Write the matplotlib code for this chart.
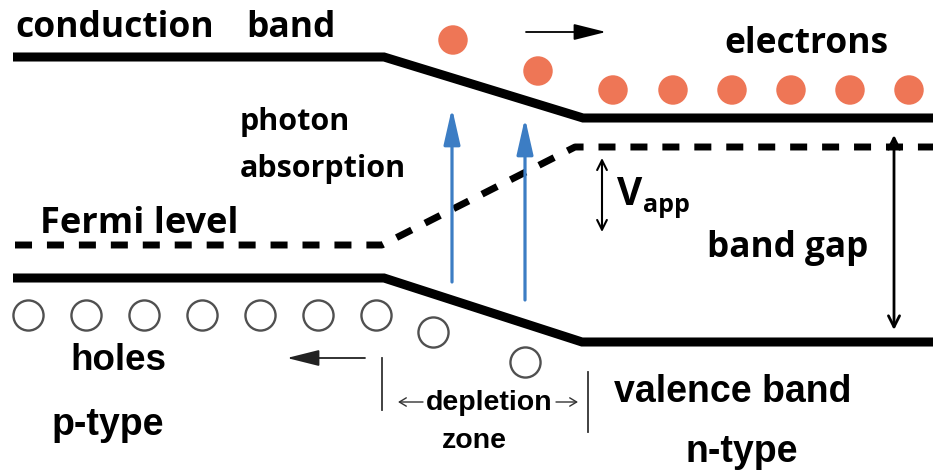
import matplotlib
matplotlib.use("Agg")
import matplotlib.pyplot as plt

# band diagram, pixel coords of the reference (y grows downward)
cond_x = [13, 384, 583, 933]
cond_y = [57, 57, 118, 118]
fermi_x = [15, 382, 575, 933]
fermi_y = [245, 245, 147, 147]
val_x = [13, 384, 582, 933]
val_y = [278, 278, 342, 342]

electron_x = [453, 538, 613, 673, 732, 791, 850, 909]
electron_y = [40, 71, 90, 90, 90, 90, 90, 90]
hole_x = [28, 86, 144, 202, 260, 318, 376, 433, 525]
hole_y = [315, 315, 315, 315, 315, 315, 315, 332, 362]

photon_x = [452, 525]
photon_bottom = [282, 300]
photon_top = [108, 118]

BOLD_C = ["Open Sans", "DejaVu Sans"]
BOLD_A = ["Liberation Sans", "DejaVu Sans"]

fig = plt.figure(figsize=(9.33, 4.70), dpi=100)
ax = fig.add_axes([0, 0, 1, 1])
ax.set_xlim(0, 933)
ax.set_ylim(470, 0)
ax.axis("off")

# bands
ax.plot(cond_x, cond_y, color="black", lw=6.5, solid_joinstyle="miter", solid_capstyle="butt")
ax.plot(val_x, val_y, color="black", lw=6.5, solid_joinstyle="miter", solid_capstyle="butt")
ax.plot(fermi_x, fermi_y, color="black", lw=5, ls=(0, (2.45, 2.15)), dash_capstyle="butt")

# carriers
ax.scatter(electron_x, electron_y, s=450, color="#ee7656", edgecolors="none", zorder=3)
ax.scatter(hole_x, hole_y, s=470, facecolors="white", edgecolors="#505050", linewidths=1.7, zorder=3)

# photon arrows
for px, pb, pt in zip(photon_x, photon_bottom, photon_top):
    ax.annotate("", xy=(px, pt), xytext=(px, pb),
                arrowprops=dict(arrowstyle="-|>,head_length=2.2,head_width=0.5",
                                color="#3c7dc4", lw=2.3, shrinkA=0, shrinkB=0))

# drift arrows
ax.annotate("", xy=(606, 32), xytext=(526, 32),
            arrowprops=dict(arrowstyle="-|>,head_length=2.0,head_width=0.5",
                            color="black", lw=1.3, shrinkA=0, shrinkB=0))
ax.annotate("", xy=(287, 358), xytext=(365, 358),
            arrowprops=dict(arrowstyle="-|>,head_length=2.0,head_width=0.5",
                            color="#222222", lw=1.3, shrinkA=0, shrinkB=0))

# Vapp and band gap arrows
ax.annotate("", xy=(602, 158), xytext=(602, 232),
            arrowprops=dict(arrowstyle="<->,head_length=0.7,head_width=0.35",
                            color="black", lw=1.5, shrinkA=0, shrinkB=0))
ax.annotate("", xy=(894, 135), xytext=(894, 330),
            arrowprops=dict(arrowstyle="<->,head_length=0.8,head_width=0.4",
                            color="black", lw=2, shrinkA=0, shrinkB=0))

# depletion zone markers
ax.plot([382, 382], [358, 410], color="#333333", lw=1.3)
ax.plot([588, 588], [372, 432], color="#333333", lw=1.3)
ax.annotate("", xy=(398, 402), xytext=(423, 402),
            arrowprops=dict(arrowstyle="->,head_length=0.5,head_width=0.3",
                            color="#333333", lw=1, shrinkA=0, shrinkB=0))
ax.annotate("", xy=(578, 402), xytext=(556, 402),
            arrowprops=dict(arrowstyle="->,head_length=0.5,head_width=0.3",
                            color="#333333", lw=1, shrinkA=0, shrinkB=0))

# labels
def label(x, y, s, size, fam):
    ax.text(x, y, s, fontsize=size, family=fam, fontweight="bold",
            ha="left", va="baseline", color="black")

label(15, 37, "conduction", 25.5, BOLD_C)
label(246, 37, "band", 25.5, BOLD_C)
label(240, 130, "photon", 22, BOLD_C)
label(240, 177, "absorption", 22, BOLD_C)
label(40, 233, "Fermi level", 26, BOLD_C)
label(724, 53, "electrons", 25.5, BOLD_C)
label(707, 257, "band gap", 25.3, BOLD_C)
label(617, 205, "V", 28, BOLD_C)
label(643, 212, "app", 18, BOLD_C)
label(70, 370, "holes", 26.5, BOLD_A)
label(52, 435, "p-type", 27, BOLD_A)
label(614, 402, "valence band", 27, BOLD_A)
label(686, 462, "n-type", 27, BOLD_A)
label(426, 410, "depletion", 20.5, BOLD_A)
label(442, 448, "zone", 20.5, BOLD_A)

fig.savefig("out.png", dpi=100)
